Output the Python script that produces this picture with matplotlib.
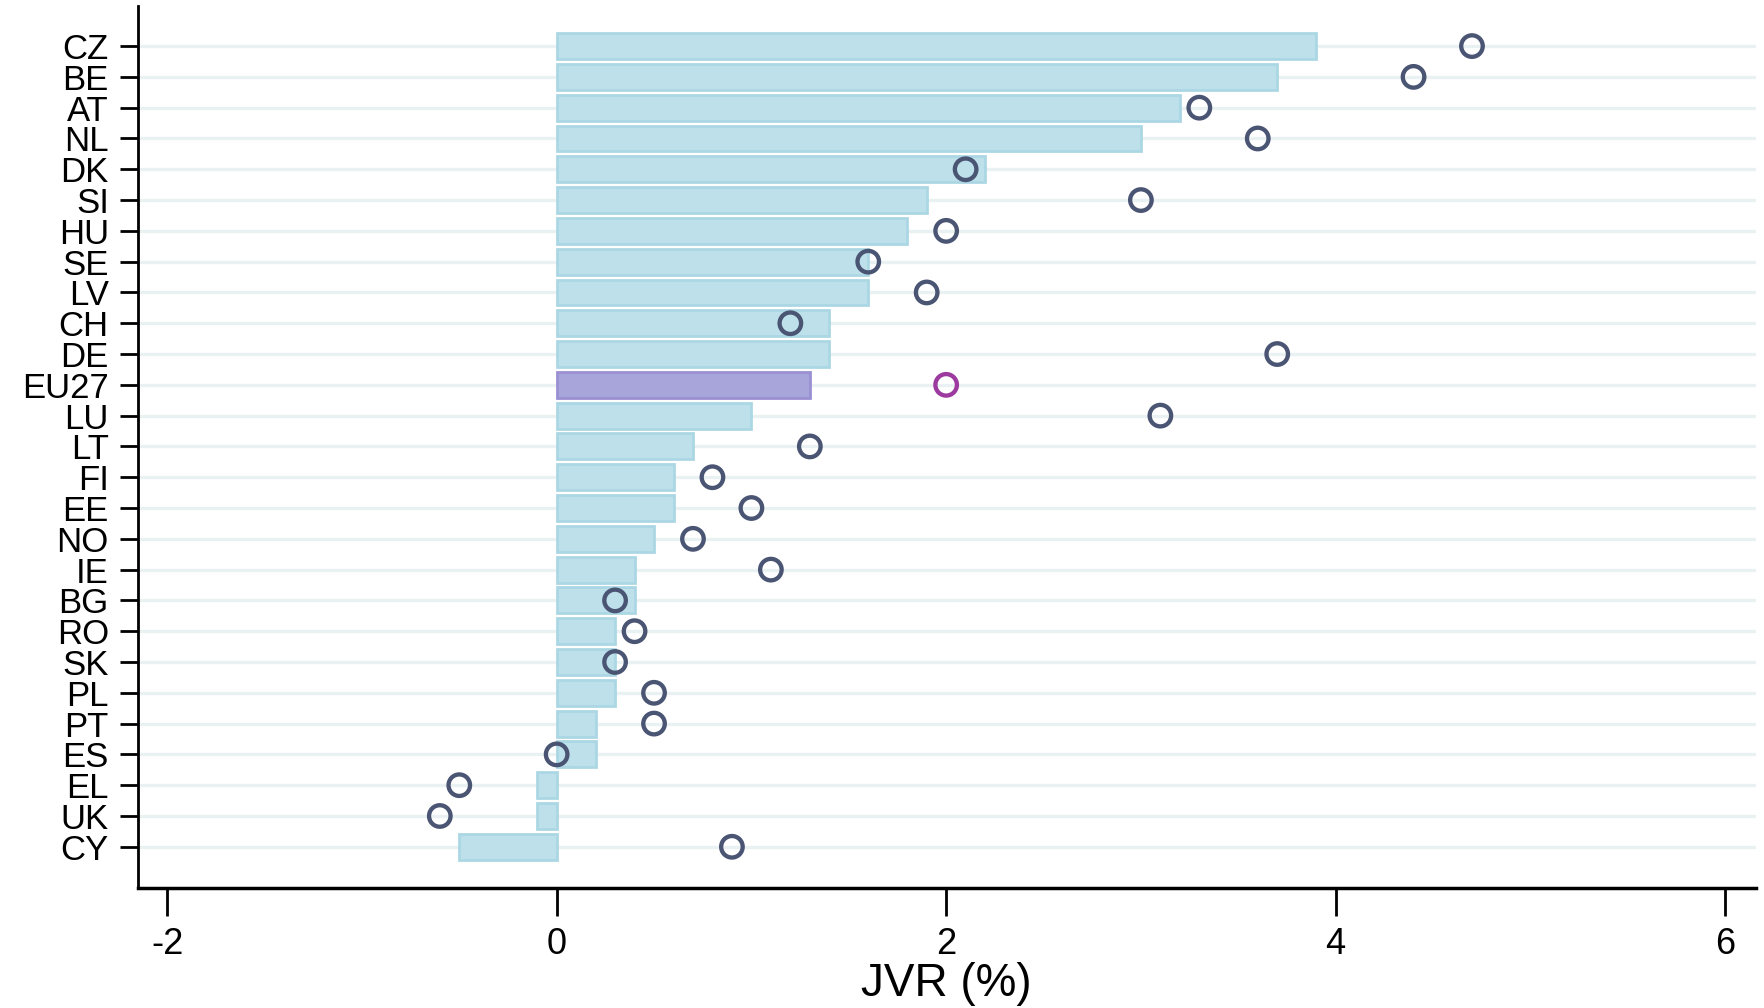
import numpy as np
import matplotlib.pyplot as plt

plt.rcParams['font.family'] = ['Liberation Sans Narrow', 'Liberation Sans', 'DejaVu Sans']

# Data
countries = ['CZ', 'BE', 'AT', 'NL', 'DK', 'SI', 'HU', 'SE', 'LV', 'CH', 'DE', 'EU27', 'LU',
             'LT', 'FI', 'EE', 'NO', 'IE', 'BG', 'RO', 'SK', 'PL', 'PT', 'ES', 'EL', 'UK', 'CY']
bar_values = [3.9, 3.7, 3.2, 3.0, 2.2, 1.9, 1.8, 1.6, 1.6, 1.4, 1.4, 1.3, 1.0,
              0.7, 0.6, 0.6, 0.5, 0.4, 0.4, 0.3, 0.3, 0.3, 0.2, 0.2, -0.1, -0.1, -0.5]
dot_values = [4.7, 4.4, 3.3, 3.6, 2.1, 3.0, 2.0, 1.6, 1.9, 1.2, 3.7, 2.0, 3.1,
              1.3, 0.8, 1.0, 0.7, 1.1, 0.3, 0.4, 0.3, 0.5, 0.5, 0.0, -0.5, -0.6, 0.9]
x_ticks = [-2, 0, 2, 4, 6]

highlight = 'EU27'
y = np.arange(len(countries))

bar_fill = ['#a8a5db' if c == highlight else '#bde0ea' for c in countries]
bar_edge = ['#9a90d3' if c == highlight else '#abd7e4' for c in countries]
dot_edge = ['#9c3a9f' if c == highlight else '#4a5473' for c in countries]

fig = plt.figure(figsize=(17.64, 10.08), dpi=100)
ax = fig.add_axes([0.0782, 0.119, 0.917, 0.875])

ax.barh(y, bar_values, height=0.84, color=bar_fill, edgecolor=bar_edge, linewidth=2, zorder=2)
ax.scatter(dot_values, y, s=240, facecolors='none', edgecolors=dot_edge, linewidths=3.1, zorder=3)

ax.set_yticks(y)
ax.set_yticklabels(countries, fontsize=25)
ax.set_ylim(len(countries) - 1 + 1.34, -1.3)
ax.set_xlim(-2.15, 6.156)
ax.set_xticks(x_ticks)
ax.set_xticklabels([str(t) for t in x_ticks], fontsize=26)
ax.set_xlabel('JVR (%)', fontsize=33, labelpad=0)

ax.grid(axis='y', color='#eaf1f3', linewidth=2.4)
ax.set_axisbelow(True)

for side in ['top', 'right']:
    ax.spines[side].set_visible(False)
ax.spines['left'].set_linewidth(2)
ax.spines['bottom'].set_linewidth(2.5)
ax.tick_params(axis='y', length=13, width=2, pad=8)
ax.tick_params(axis='x', length=20, width=2, pad=8)

fig.savefig('out.png', dpi=100)
